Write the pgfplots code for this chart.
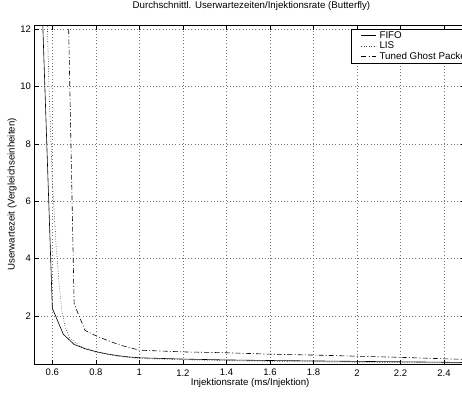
\documentclass[border=0pt]{standalone}
\usepackage{fontspec}
\setmainfont{Liberation Sans}
\usepackage{pgfplots}
\pgfplotsset{compat=1.18}
\begin{document}
\begin{tikzpicture}
\begin{axis}[
  at={(0pt,0pt)}, anchor=south west,
  scale only axis, width=431.3pt, height=339pt,
  xmin=0.518, xmax=2.5, ymin=0.328, ymax=12.14,
  xtick={0.6,0.8,1,1.2,1.4,1.6,1.8,2,2.2,2.4},
  ytick={2,4,6,8,10,12},
  /pgf/number format/assume math mode=true,
  tick label style={font=\fontsize{9.5}{10}\selectfont},
  xticklabel style={anchor=center, yshift=-8.7pt},
  tick align=inside, tick pos=both, major tick length=4.5pt,
  tick style={black, line width=0.6pt},
  axis line style={line width=0.9pt},
  grid=major,
  major grid style={black!55, line width=0.45pt, dash pattern=on 0.6pt off 2.6pt},
  title={Durchschnittl. Userwartezeiten/Injektionsrate (Butterfly)},
  title style={at={(axis description cs:0.503,1.0383)}, anchor=center, font=\fontsize{9.7}{10}\selectfont, inner sep=0pt},
  xlabel={Injektionsrate (ms/Injektion)},
  xlabel style={at={(axis description cs:0.5,-0.056)}, anchor=center, font=\fontsize{9.7}{10}\selectfont, inner sep=0pt},
  ylabel={Userwartezeit (Vergleichseinheiten)},
  ylabel style={at={(axis description cs:-0.052,0.5)}, anchor=center, rotate=0, font=\fontsize{9.7}{10}\selectfont, inner sep=0pt},
  legend style={at={(axis description cs:0.7332,0.988)}, anchor=north west,
    draw=black, line width=0.8pt, fill=white,
    font=\fontsize{9.8}{10}\selectfont,
    inner xsep=2pt, inner ysep=1pt, row sep=0pt,
    nodes={inner sep=0.8pt, text height=7pt, text depth=1.9pt}},
  legend cell align=left,
  legend image code/.code={\path (-8pt,0pt); \draw[#1] (0pt,0pt) -- (15pt,0pt); \path (17pt,0pt);},
]
\addplot[black, line width=0.6pt] coordinates {
 (0.55,13.5) (0.6,2.27) (0.65,1.37) (0.7,1.01) (0.75,0.86) (0.8,0.76) (0.85,0.68)
 (0.9,0.62) (0.95,0.575) (1.0,0.545) (1.2,0.5) (1.4,0.47) (1.6,0.45) (1.8,0.435)
 (2.0,0.42) (2.2,0.405) (2.4,0.39) (2.5,0.38)
};
\addlegendentry{FIFO}
\addplot[black!80, line width=0.6pt, dash pattern=on 0.7pt off 1.8pt] coordinates {
 (0.57,14.1) (0.585,9.9) (0.6,6.7) (0.617,4.5) (0.63,3.2) (0.645,2.1) (0.66,1.6)
 (0.68,1.23) (0.72,0.99) (0.8,0.74) (0.9,0.6) (1.0,0.52) (1.2,0.475) (1.4,0.445)
 (1.6,0.42) (1.8,0.405) (2.0,0.39) (2.2,0.375) (2.4,0.365) (2.5,0.36)
};
\addlegendentry{LIS}
\addplot[black, line width=0.6pt, dash pattern=on 5pt off 2.2pt on 1pt off 2.2pt] coordinates {
 (0.675,12.0) (0.7,2.45) (0.715,2.15) (0.75,1.5) (0.8,1.31) (0.85,1.16) (0.91,0.99)
 (1.0,0.81) (1.2,0.75) (1.4,0.72) (1.6,0.67) (1.8,0.64) (2.0,0.6) (2.2,0.56)
 (2.4,0.51) (2.5,0.49)
};
\addlegendentry{Tuned Ghost Packet}
\end{axis}
\pgfresetboundingbox
\useasboundingbox (-34.5pt,-28pt) rectangle (427.5pt,364pt);
\end{tikzpicture}
\end{document}
